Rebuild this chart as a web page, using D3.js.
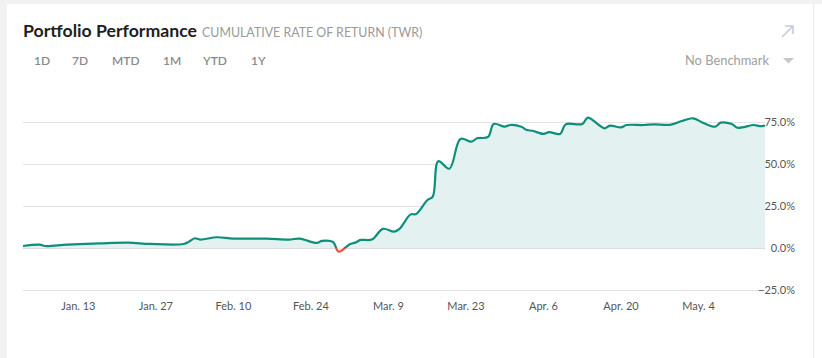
<!DOCTYPE html>
<html><head><meta charset="utf-8">
<script src="https://cdn.jsdelivr.net/npm/d3@7"></script>
<style>
html,body{margin:0;padding:0;background:#fff;}
svg{display:block;font-family:Lato,"Open Sans",sans-serif;}
</style></head><body>
<svg id="chart" width="822" height="358"></svg>
<script>
const dates = ["2020-01-03","2020-01-06","2020-01-07","2020-01-11","2020-01-17","2020-01-22","2020-01-26","2020-02-01","2020-02-02","2020-02-03","2020-02-04","2020-02-07","2020-02-10","2020-02-16","2020-02-20","2020-02-22","2020-02-25","2020-02-26","2020-02-28","2020-02-29","2020-03-02","2020-03-03","2020-03-04","2020-03-06","2020-03-08","2020-03-10","2020-03-11","2020-03-13","2020-03-14","2020-03-16","2020-03-17","2020-03-18","2020-03-20","2020-03-22","2020-03-24","2020-03-25","2020-03-27","2020-03-28","2020-03-30","2020-03-31","2020-04-02","2020-04-03","2020-04-04","2020-04-06","2020-04-07","2020-04-09","2020-04-10","2020-04-13","2020-04-14","2020-04-16","2020-04-17","2020-04-18","2020-04-20","2020-04-21","2020-04-24","2020-04-26","2020-04-29","2020-05-01","2020-05-03","2020-05-05","2020-05-07","2020-05-08","2020-05-10","2020-05-11","2020-05-14","2020-05-15","2020-05-16"];
const returns = [1.2,2.0,1.2,2.0,2.8,3.2,2.4,2.4,3.8,5.8,5.0,6.4,5.6,5.6,5.0,5.6,3.0,4.2,3.6,-2.2,2.2,3.2,4.8,5.0,11.4,9.7,11.4,20.0,20.2,28.4,30.6,51.7,47.2,64.9,63.3,65.3,66.1,73.8,72.2,73.2,72.2,70.2,69.8,67.9,69.0,67.9,73.6,73.8,77.6,73.2,71.2,72.8,71.8,73.2,73.2,73.6,73.4,75.6,77.2,74.2,72.2,74.6,73.8,71.6,73.2,72.6,72.8];
const yTicks = [-25,0,25,50,75];
const xTickDates = ["2020-01-13","2020-01-27","2020-02-10","2020-02-24","2020-03-09","2020-03-23","2020-04-06","2020-04-20","2020-05-04"];
const rangeButtons = ["1D","7D","MTD","1M","YTD","1Y"];

const parse = d3.timeParse("%Y-%m-%d");
const data = dates.map((d,i)=>({date:parse(d), v:returns[i]}));

const svg = d3.select("#chart");
// page background
svg.append("rect").attr("x",0).attr("y",0).attr("width",822).attr("height",4).attr("fill","#f2f2f2");
svg.append("rect").attr("x",0).attr("y",0).attr("width",7).attr("height",358).attr("fill","#f2f2f2");
svg.append("line").attr("x1",813.5).attr("x2",813.5).attr("y1",4).attr("y2",358).attr("stroke","#ececec");

const x = d3.scaleTime().domain(d3.extent(data,d=>d.date)).range([23,765]);
const y = d3.scaleLinear().domain([-25,75]).range([290,122]);

// gridlines
svg.append("g").selectAll("line").data(yTicks).join("line")
  .attr("x1",23).attr("x2",765).attr("y1",d=>y(d)).attr("y2",d=>y(d))
  .attr("stroke",d=>d===0?"#dcdcdc":"#e4e4e4").attr("stroke-width",1).attr("shape-rendering","crispEdges");

// y axis labels
svg.append("g").selectAll("text").data(yTicks).join("text")
  .attr("x",795).attr("y",d=>y(d)).attr("dy","0.35em").attr("text-anchor","end")
  .attr("font-size",11).attr("fill","#555").text(d=>d3.format(".1f")(d)+"%");

// x axis labels
const fmt = d3.timeFormat("%b. %-d");
svg.append("g").selectAll("text").data(xTickDates.map(parse)).join("text")
  .attr("x",d=>x(d)).attr("y",306).attr("dy","0.35em").attr("text-anchor","middle")
  .attr("font-size",11).attr("fill","#555").text(d=>fmt(d));

const curve = d3.curveCatmullRom.alpha(0.5);
const area = d3.area().x(d=>x(d.date)).y0(y(0)).y1(d=>y(d.v)).curve(curve);
svg.append("path").datum(data).attr("d",area).attr("fill","#e3f2f0");

const line = d3.line().x(d=>x(d.date)).y(d=>y(d.v)).curve(curve);
const defs = svg.append("defs");
defs.append("clipPath").attr("id","above").append("rect").attr("x",0).attr("y",0).attr("width",822).attr("height",y(0));
defs.append("clipPath").attr("id","below").append("rect").attr("x",0).attr("y",y(0)).attr("width",822).attr("height",358-y(0));
svg.append("path").datum(data).attr("d",line).attr("fill","none").attr("stroke","#0e8f7b").attr("stroke-width",2.2).attr("clip-path","url(#above)");
svg.append("path").datum(data).attr("d",line).attr("fill","none").attr("stroke","#e5523f").attr("stroke-width",2.2).attr("clip-path","url(#below)");

// header
svg.append("text").attr("x",23).attr("y",37).attr("font-size",17.7).attr("font-weight",700).attr("fill","#1e1e1e").text("Portfolio Performance");
svg.append("text").attr("x",202).attr("y",37).attr("font-size",12.4).attr("fill","#9a9a9a").text("CUMULATIVE RATE OF RETURN (TWR)");

const btnX = [34,72,112,163,203,251];
svg.append("g").selectAll("text").data(rangeButtons).join("text")
  .attr("x",(d,i)=>btnX[i]).attr("y",65).attr("font-size",12).attr("font-weight",600).attr("fill","#8a8a8a").text(d=>d);

svg.append("text").attr("x",769).attr("y",65).attr("text-anchor","end").attr("font-size",12.9).attr("fill","#a0a0a0").text("No Benchmark");
svg.append("path").attr("d","M783,58 L794,58 L788.5,63.5 Z").attr("fill","#c8c8c8");
// expand arrow icon
svg.append("path").attr("d","M782,37 L793,26 M785,26 L793,26 L793,34").attr("fill","none").attr("stroke","#c3cbdc").attr("stroke-width",1.6);
</script></body></html>
